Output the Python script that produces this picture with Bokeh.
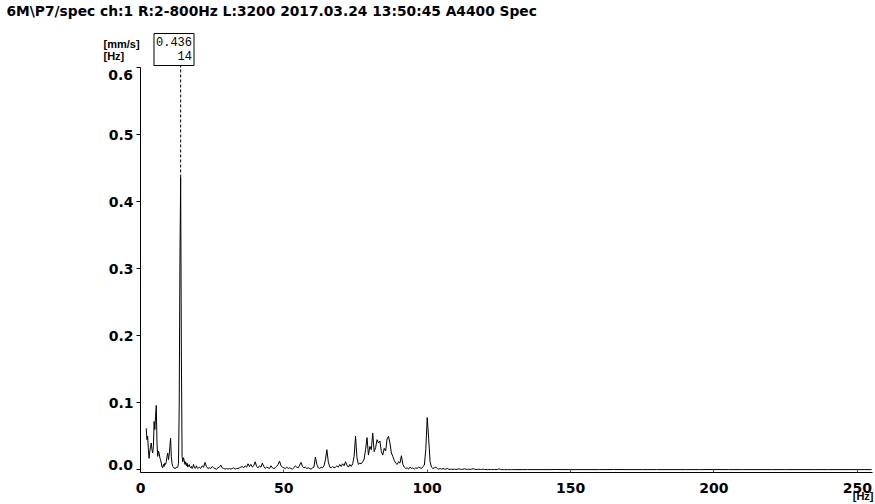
from bokeh.plotting import figure
from bokeh.models import Range1d, Label, FixedTicker
from bokeh.embed import file_html
from bokeh.resources import INLINE

# ---------------- data ----------------
title_text = "6M\\P7/spec ch:1 R:2-800Hz L:3200 2017.03.24 13:50:45 A4400 Spec"
y_unit = "[mm/s]"
x_unit_top = "[Hz]"
x_unit = "[Hz]"
cursor_amp = "0.436"
cursor_freq = "14"
cursor_f = 14.0
cursor_a = 0.436

x_ticks = [0, 50, 100, 150, 200, 250]
y_ticks = [0.0, 0.1, 0.2, 0.3, 0.4, 0.5, 0.6]
y_end_labels = ["0.0", "0.6"]   # drawn nudged inward, as in the reference

# spectrum bins 2.00 .. 20.00 Hz, every 0.25 Hz
lo_start, lo_step = 2.0, 0.25
amp_lo = [
    0.062, 0.045, 0.050, 0.030,
    0.017, 0.028, 0.035, 0.040,
    0.030, 0.025, 0.035, 0.072,
    0.060, 0.080, 0.096, 0.040,
    0.020, 0.028, 0.025, 0.018,
    0.015, 0.010, 0.004, 0.003,
    0.008, 0.005, 0.010, 0.008,
    0.012, 0.020, 0.025, 0.015,
    0.022, 0.035, 0.047, 0.020,
    0.009, 0.005, 0.004, 0.002,
    0.003, 0.002, 0.004, 0.003,
    0.004, 0.010, 0.095, 0.310,
    0.436, 0.180, 0.020, 0.012,
    0.018, 0.014, 0.008, 0.012,
    0.006, 0.010, 0.004, 0.006,
    0.008, 0.004, 0.003, 0.005,
    0.002, 0.004, 0.008, 0.004,
    0.002, 0.003, 0.006, 0.003,
    0.002,
]

# spectrum bins 20.5 .. 130.0 Hz, every 0.5 Hz
mid_start, mid_step = 20.5, 0.5
amp_mid = [
    0.004, 0.002, 0.006, 0.004, 0.011, 0.005, 0.002, 0.003, 0.002, 0.005,   # 20.5-25
    0.003, 0.002, 0.001, 0.003, 0.004, 0.007, 0.003, 0.002, 0.001, 0.002,   # 25.5-30
    0.001, 0.002, 0.001, 0.002, 0.003, 0.001, 0.002, 0.002, 0.003, 0.004,   # 30.5-35
    0.005, 0.003, 0.006, 0.004, 0.009, 0.005, 0.008, 0.004, 0.006, 0.012,   # 35.5-40
    0.005, 0.003, 0.006, 0.004, 0.010, 0.005, 0.002, 0.004, 0.003, 0.002,   # 40.5-45
    0.006, 0.003, 0.002, 0.003, 0.005, 0.008, 0.013, 0.006, 0.004, 0.003,   # 45.5-50
    0.002, 0.004, 0.002, 0.003, 0.002, 0.001, 0.003, 0.006, 0.004, 0.003,   # 50.5-55
    0.007, 0.011, 0.005, 0.003, 0.004, 0.002, 0.003, 0.002, 0.001, 0.003,   # 55.5-60
    0.004, 0.019, 0.008, 0.003, 0.002, 0.004, 0.003, 0.006, 0.015, 0.030,   # 60.5-65
    0.012, 0.004, 0.003, 0.005, 0.003, 0.004, 0.006, 0.004, 0.008, 0.005,   # 65.5-70
    0.009, 0.006, 0.012, 0.007, 0.004, 0.008, 0.005, 0.009, 0.020, 0.050,   # 70.5-75
    0.018, 0.008, 0.010, 0.009, 0.012, 0.016, 0.030, 0.048, 0.022, 0.035,   # 75.5-80
    0.030, 0.055, 0.027, 0.033, 0.045, 0.040, 0.043, 0.027, 0.022, 0.032,   # 80.5-85
    0.028, 0.046, 0.050, 0.040, 0.025, 0.020, 0.014, 0.010, 0.008, 0.012,   # 85.5-90
    0.010, 0.021, 0.008, 0.004, 0.002, 0.003, 0.001, 0.004, 0.002, 0.003,   # 90.5-95
    0.001, 0.003, 0.002, 0.004, 0.003, 0.002, 0.005, 0.007, 0.030, 0.078,   # 95.5-100
    0.047, 0.012, 0.004, 0.002, 0.003, 0.004, 0.002, 0.001, 0.002, 0.001,   # 100.5-105
    0.002, 0.001, 0.001, 0.002, 0.001, 0.0005, 0.001, 0.0005, 0.001, 0.0005,  # 105.5-110
    0.001, 0.0015, 0.001, 0.0005, 0.001, 0.0015, 0.001, 0.0005, 0.001, 0.0005,  # 110.5-115
    0.001, 0.0015, 0.001, 0.0005, 0.0005, 0.001, 0.0005, 0.0005, 0.001, 0.0005,  # 115.5-120
    0.0005, 0.0003, 0.0005, 0.0003, 0.0005, 0.0003, 0.0005, 0.0003, 0.0005, 0.0015,  # 120.5-125
    0.0005, 0.0003, 0.0003, 0.0003, 0.0003, 0.0003, 0.0003, 0.0003, 0.0003, 0.0003,  # 125.5-130
]

# spectrum tail 135 .. 255 Hz, every 5 Hz
hi_start, hi_step = 135.0, 5.0
amp_hi = [
    0.0003, 0.0003, 0.0004, 0.0003, 0.0003, 0.0003, 0.0004, 0.0003, 0.0003,
    0.0003, 0.0003, 0.0003, 0.0003, 0.0004, 0.0003, 0.0003, 0.0003, 0.0003,
    0.0003, 0.0003, 0.0003, 0.0003, 0.0003, 0.0003, 0.0003,
]

freq = ([lo_start + i * lo_step for i in range(len(amp_lo))]
        + [mid_start + i * mid_step for i in range(len(amp_mid))]
        + [hi_start + i * hi_step for i in range(len(amp_hi))])
amp = amp_lo + amp_mid + amp_hi

# ---------------- layout geometry (pixels on the page) ----------------
W, H = 874, 502
AX_LEFT, AX_RIGHT = 140.0, 872.0      # y-axis at x=0 Hz, end of x-axis
AX_TOP, AX_BOTTOM = 67.0, 472.0       # 0.6 level, x-axis line
X0, X1 = 0.0, 255.3
Y0, Y1 = -0.004, 0.6
px_per_x = (AX_RIGHT - AX_LEFT) / (X1 - X0)
px_per_y = (AX_BOTTOM - AX_TOP) / (Y1 - Y0)
x_range = Range1d(X0 - AX_LEFT / px_per_x, X1 + (W - AX_RIGHT) / px_per_x)
y_range = Range1d(Y0 - (H - AX_BOTTOM) / px_per_y, Y1 + AX_TOP / px_per_y)

p = figure(
    width=W, height=H, min_border=0,
    x_range=x_range, y_range=y_range,
    output_backend="svg", toolbar_location=None, tools="",
)
p.outline_line_color = None
p.grid.visible = False
p.background_fill_color = "white"
p.border_fill_color = "white"

TICK_FONT = "DejaVu Sans"

xa = p.xaxis[0]
xa.fixed_location = Y0
xa.bounds = (X0, X1)
xa.ticker = FixedTicker(ticks=x_ticks)
xa.major_tick_in = 3
xa.major_tick_out = 0
xa.minor_tick_line_color = None
xa.axis_line_color = "black"
xa.major_tick_line_color = "#555555"
xa.major_label_text_font = TICK_FONT
xa.major_label_text_font_size = "14px"
xa.major_label_text_font_style = "bold"
xa.major_label_text_color = "black"
xa.major_label_standoff = 10

ya = p.yaxis[0]
ya.fixed_location = X0
ya.bounds = (Y0, Y1)
ya.ticker = FixedTicker(ticks=y_ticks)
ya.major_tick_in = 0
ya.major_tick_out = 4
ya.minor_tick_line_color = None
ya.axis_line_color = "black"
ya.major_tick_line_color = "black"
ya.major_label_text_font = TICK_FONT
ya.major_label_text_font_size = "14px"
ya.major_label_text_font_style = "bold"
ya.major_label_text_color = "black"
ya.major_label_standoff = 3
ya.formatter.use_scientific = False
ya.major_label_overrides = {y_ticks[0]: "", y_ticks[-1]: ""}

# spectrum
p.line(freq, amp, line_color="black", line_width=1)

# cursor dashed line up to the value box
box_bottom_y = Y1 + 3 / px_per_y
p.segment(x0=[cursor_f], y0=[cursor_a], x1=[cursor_f], y1=[box_bottom_y],
          line_color="black", line_width=1, line_dash="3 2")


def lab(text, px, py, **kw):
    """Label at page pixel position (px, py) measured from top-left."""
    opts = dict(text_color="black", text_baseline="middle", text_align="left")
    opts.update(kw)
    p.add_layout(Label(x=px, y=H - py, x_units="screen", y_units="screen",
                       text=text, **opts))


lab(title_text, 6, 10, text_font="DejaVu Sans", text_font_size="13.8px",
    text_font_style="bold")
lab(y_unit, 103, 43, text_font="Liberation Sans", text_font_size="11px",
    text_font_style="bold")
lab(x_unit_top, 103, 55, text_font="Liberation Sans", text_font_size="11px",
    text_font_style="bold")
lab(x_unit, 873, 495, text_font="Liberation Sans", text_font_size="11px",
    text_font_style="bold", text_align="right")

# end tick labels of the y axis, nudged inward like the reference
lab(y_end_labels[1], 132.5, 74, text_font=TICK_FONT, text_font_size="14px",
    text_font_style="bold", text_align="right")
lab(y_end_labels[0], 132.5, 464, text_font=TICK_FONT, text_font_size="14px",
    text_font_style="bold", text_align="right")

# cursor value box
lab(cursor_amp + "\n" + cursor_freq, 193.5, 33, text_font="Liberation Mono",
    text_font_size="12px", text_align="right", text_baseline="top",
    text_line_height=1.0, border_line_color="black", border_line_width=1,
    background_fill_color="white", padding=2)

open("out.html", "w").write(file_html(p, INLINE))
